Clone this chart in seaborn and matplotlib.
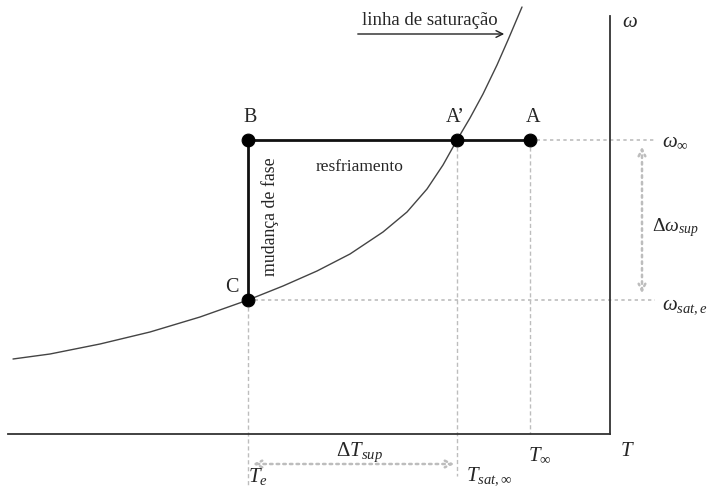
import matplotlib
matplotlib.use("Agg")
import matplotlib.pyplot as plt
import seaborn as sns
import pandas as pd

sns.set_theme(style="white")
plt.rcParams["font.family"] = ["Liberation Serif", "DejaVu Serif"]
plt.rcParams["mathtext.fontset"] = "custom"
plt.rcParams["mathtext.it"] = "Liberation Serif:italic"
plt.rcParams["mathtext.rm"] = "Liberation Serif"

# Saturation curve (temperature vs. humidity ratio), arbitrary units
curve_T = [13, 50, 100, 150, 200, 248, 283, 317, 350, 383, 407, 427, 443, 457, 470, 483, 497, 508, 522]
curve_w = [129, 134, 144, 156, 171, 188, 202, 217, 234, 256, 276, 299, 323, 348, 370, 394, 423, 448, 481]

# Process states
state_names = ["A", "A\u2019", "B", "C"]
state_T = [530, 457, 248, 248]
state_w = [348, 348, 348, 188]

T_e, T_sat, T_inf = 248, 457, 530
w_inf, w_sat_e = 348, 188

T_min, T_max = 8, 610
w_min, w_max = 54, 472

fig = plt.figure(figsize=(7.08, 4.89), dpi=100)
W, H = 708, 489
ax = fig.add_axes([T_min / W, w_min / H, (T_max - T_min) / W, (w_max - w_min) / H])
ax.set_xlim(T_min, T_max)
ax.set_ylim(w_min, w_max)
for side in ["top", "left"]:
    ax.spines[side].set_visible(False)
for side in ["bottom", "right"]:
    ax.spines[side].set_color("#333333")
    ax.spines[side].set_linewidth(1.3)
ax.set_xticks([])
ax.set_yticks([])
ax.set_facecolor("none")

grey = "#bdbdbd"
# guide lines
ax.plot([T_e, T_e], [w_sat_e, 0], ls=(0, (3, 2)), color=grey, lw=1, clip_on=False)
ax.plot([T_sat, T_sat], [w_inf, 12], ls=(0, (3, 2)), color=grey, lw=1, clip_on=False)
ax.plot([T_inf, T_inf], [w_inf, w_min], ls=(0, (3, 2)), color=grey, lw=1, clip_on=False)
ax.plot([T_inf, 655], [w_inf, w_inf], ls=(0, (2, 2)), color=grey, lw=1.2, clip_on=False)
ax.plot([T_e, 655], [w_sat_e, w_sat_e], ls=(0, (2, 2)), color=grey, lw=1.2, clip_on=False)

# saturation line
df_curve = pd.DataFrame({"T": curve_T, "w": curve_w})
sns.lineplot(data=df_curve, x="T", y="w", ax=ax, color="#444444", lw=1.0,
             sort=False, estimator=None, clip_on=False)

# process path B-A and B-C
ax.plot([state_T[2], state_T[0]], [state_w[2], state_w[0]], color="#111111", lw=2.0, zorder=3)
ax.plot([state_T[2], state_T[3]], [state_w[2], state_w[3]], color="#111111", lw=2.0, zorder=3)

df_states = pd.DataFrame({"T": state_T, "w": state_w, "name": state_names})
sns.scatterplot(data=df_states, x="T", y="w", ax=ax, color="black", s=85,
                edgecolor="black", zorder=4, clip_on=False)
ax.set_xlabel("")
ax.set_ylabel("")

fs = 14.5
ax.text(533, 371, "A", fontsize=fs, ha="center", va="center")
ax.text(455, 371, "A\u2019", fontsize=fs, ha="center", va="center")
ax.text(250, 371, "B", fontsize=fs, ha="center", va="center")
ax.text(232, 202, "C", fontsize=fs, ha="center", va="center")
ax.text(360, 322, "resfriamento", fontsize=12.5, ha="center", va="center")
ax.text(270, 272, "mudança de fase", fontsize=12.8, ha="center", va="center", rotation=90)

# saturation line label
ax.annotate("", xy=(507, 454), xytext=(355, 454),
            arrowprops=dict(arrowstyle="->", color="#222222", lw=1.0), annotation_clip=False)
ax.text(430, 469, "linha de saturação", fontsize=13.5, ha="center", va="center")

# difference arrows
ax.annotate("", xy=(642, w_inf - 4), xytext=(642, w_sat_e + 4),
            arrowprops=dict(arrowstyle="<->", color=grey, lw=1.8, ls=":"), annotation_clip=False)
ax.annotate("", xy=(250, 24), xytext=(457, 24),
            arrowprops=dict(arrowstyle="<->", color=grey, lw=1.8, ls=":"), annotation_clip=False)

# axis labels
ms = 15
ax.text(630, 467, r"$\omega$", fontsize=ms, ha="center", va="center")
ax.text(627, 37, r"$T$", fontsize=ms, ha="center", va="center")
ax.text(662, w_inf - 1, r"$\omega_{\infty}$", fontsize=ms, ha="left", va="center")
ax.text(662, w_sat_e - 5, r"$\omega_{sat,e}$", fontsize=ms, ha="left", va="center")
ax.text(652, 261, r"$\Delta\omega_{sup}$", fontsize=14, ha="left", va="center")
ax.text(359, 37, r"$\Delta T_{sup}$", fontsize=ms, ha="center", va="center")
ax.text(528, 33, r"$T_{\infty}$", fontsize=ms, ha="left", va="center")
ax.text(248, 2, r"$T_e$", fontsize=ms, ha="left", va="bottom")
ax.text(466, 2, r"$T_{sat,\infty}$", fontsize=ms, ha="left", va="bottom")

fig.savefig("out.png", dpi=100)
